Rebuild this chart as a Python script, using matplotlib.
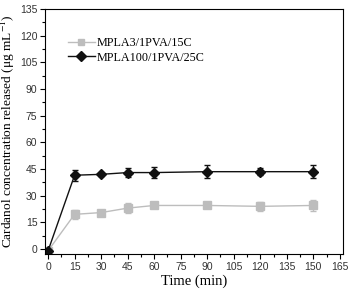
import numpy as np
import matplotlib.pyplot as plt
from matplotlib.ticker import MultipleLocator
from matplotlib.lines import Line2D

# Release data
time_min = [0, 15, 30, 45, 60, 90, 120, 150]

mpla3 = [-1, 19.5, 20.5, 23, 24.5, 24.5, 24, 24.5]
mpla3_err = [0, 2.5, 1, 3, 1, 1, 2.5, 3]

mpla100 = [-1, 41.5, 42, 43, 43, 43.5, 43.5, 43.5]
mpla100_err = [0, 3, 1, 2.5, 3, 3.5, 2, 3.5]

labels = ["MPLA3/1PVA/15C", "MPLA100/1PVA/25C"]
colors = ["#bdbdbd", "#111111"]
markers = ["s", "D"]

plt.rcParams["mathtext.fontset"] = "stix"


def main():
    fig = plt.figure(figsize=(3.52, 2.95), dpi=100)
    ax = fig.add_axes([0.128, 0.139, 0.846, 0.8305])

    ax.errorbar(time_min, mpla3, yerr=mpla3_err, color=colors[0], marker=markers[0],
                ms=5.5, lw=1, elinewidth=1, capsize=2.5)
    ax.errorbar(time_min, mpla100, yerr=mpla100_err, color=colors[1], marker=markers[1],
                ms=5, lw=1, elinewidth=1, capsize=2.5)

    ax.set_xlim(-1.7, 166.7)
    ax.set_ylim(-2.8, 135)
    ax.xaxis.set_major_locator(MultipleLocator(15))
    ax.xaxis.set_minor_locator(MultipleLocator(7.5))
    ax.yaxis.set_major_locator(MultipleLocator(15))
    ax.yaxis.set_minor_locator(MultipleLocator(7.5))
    ax.tick_params(which="major", direction="out", length=3.5, width=0.8,
                   labelsize=7.5, pad=2)
    ax.tick_params(which="minor", direction="out", length=2, width=0.8)
    for lab in ax.get_xticklabels() + ax.get_yticklabels():
        lab.set_family("Liberation Sans")
        lab.set_color("#333333")

    ax.set_xlabel("Time (min)", family="Liberation Serif", fontsize=10.5, labelpad=2)
    ax.set_ylabel("Cardanol concentration released (\u03bcg mL$^{-1}$)",
                  family="Liberation Serif", fontsize=9.6, labelpad=2)

    handles = [Line2D([], [], color=c, marker=m, ms=5, lw=1)
               for c, m in zip(colors, markers)]
    ax.legend(handles, labels, loc="upper left", bbox_to_anchor=(0.077, 0.885),
              frameon=False, prop={"family": "Liberation Serif", "size": 8.7},
              handlelength=2.2, handletextpad=0.15, labelspacing=0.2,
              borderpad=0, borderaxespad=0)

    fig.savefig("out.png", dpi=100)


if __name__ == "__main__":
    main()
